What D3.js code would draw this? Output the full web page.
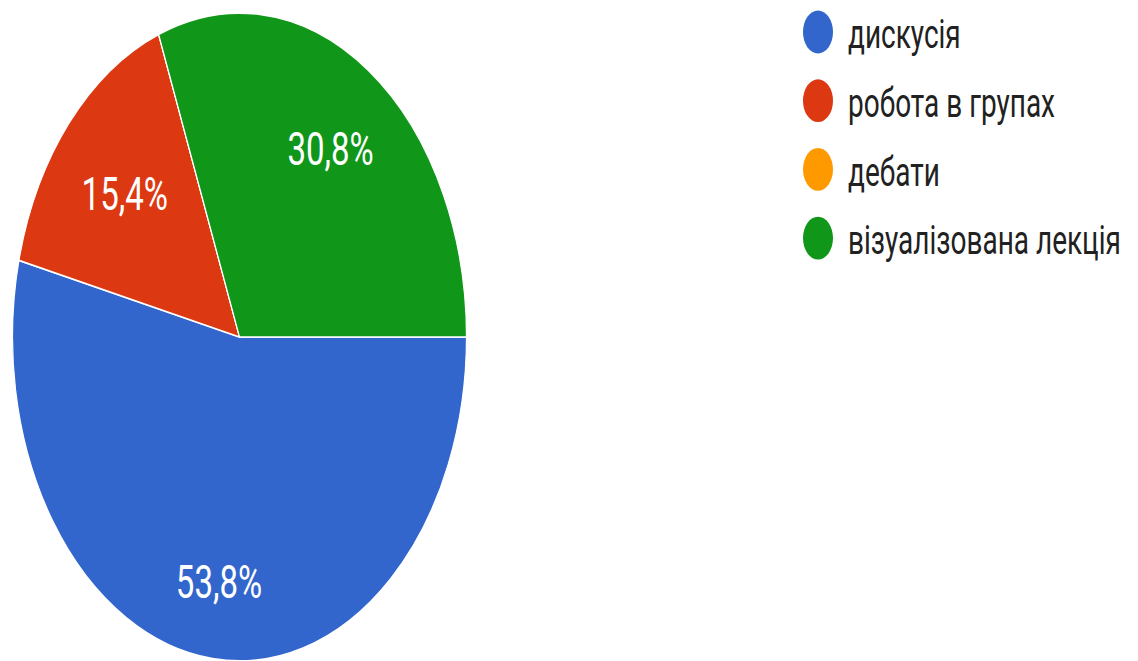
<!DOCTYPE html>
<html><head><meta charset="utf-8">
<script src="https://cdn.jsdelivr.net/npm/d3@7"></script>
<style>html,body{margin:0;padding:0;background:#fff;}</style>
</head><body>
<svg id="chart" width="1138" height="661"></svg>
<script>
const categories = ["дискусія", "робота в групах", "дебати", "візуалізована лекція"];
const values = [53.8, 15.4, 0, 30.8];
const labels = ["53,8%", "15,4%", "", "30,8%"];
const colors = ["#3366cc", "#dc3912", "#ff9900", "#109618"];

const svg = d3.select("#chart");
const k = 1.427;           // vertical stretch of the picture
const R = 227;
const cx = 239.5, cy = 337;

const g = svg.append("g").attr("transform", `translate(${cx},${cy}) scale(1,${k})`);
const pie = d3.pie().sort(null).value(d => d).startAngle(Math.PI/2).endAngle(Math.PI/2 + 2*Math.PI);
const arcs = pie(values);
const arc = d3.arc().innerRadius(0).outerRadius(R);
const total = d3.sum(values);
// label radius grows slightly with slice size (as the source chart places them)
const labelPos = d => {
  const frac = (d.endAngle - d.startAngle) / (2*Math.PI);
  const r = R * (0.64 + 0.22 * frac);
  return d3.arc().innerRadius(r).outerRadius(r).centroid(d);
};

g.selectAll("path.slice").data(arcs).enter().append("path")
  .attr("class","slice")
  .attr("d", arc)
  .attr("fill", (d,i) => colors[i])
  .attr("stroke", "#fff")
  .attr("stroke-width", 1.2);

g.selectAll("text.lbl").data(arcs).enter().append("text")
  .attr("class","lbl")
  .attr("transform", d => { const c = labelPos(d); return `translate(${c[0]},${c[1]})`; })
  .attr("text-anchor","middle")
  .attr("dy","0.36em")
  .attr("fill","#fff")
  .style("font-family","Roboto, Arial, sans-serif")
  .style("font-size","33px")
  .text((d,i) => labels[i]);

// legend
const lg = svg.append("g").attr("transform", `translate(818,32) scale(1,${k})`);
const step = 68.7 / k;
const items = lg.selectAll("g.item").data(categories).enter().append("g")
  .attr("class","item")
  .attr("transform", (d,i) => `translate(0,${i*step})`);
items.append("circle").attr("r", 15).attr("fill", (d,i) => colors[i]);
items.append("text")
  .attr("x", 30)
  .attr("dy", "0.41em")
  .attr("fill", "#212121")
  .style("font-family","Roboto, Arial, sans-serif")
  .style("font-size","28px")
  .text(d => d);
</script>
</body></html>
